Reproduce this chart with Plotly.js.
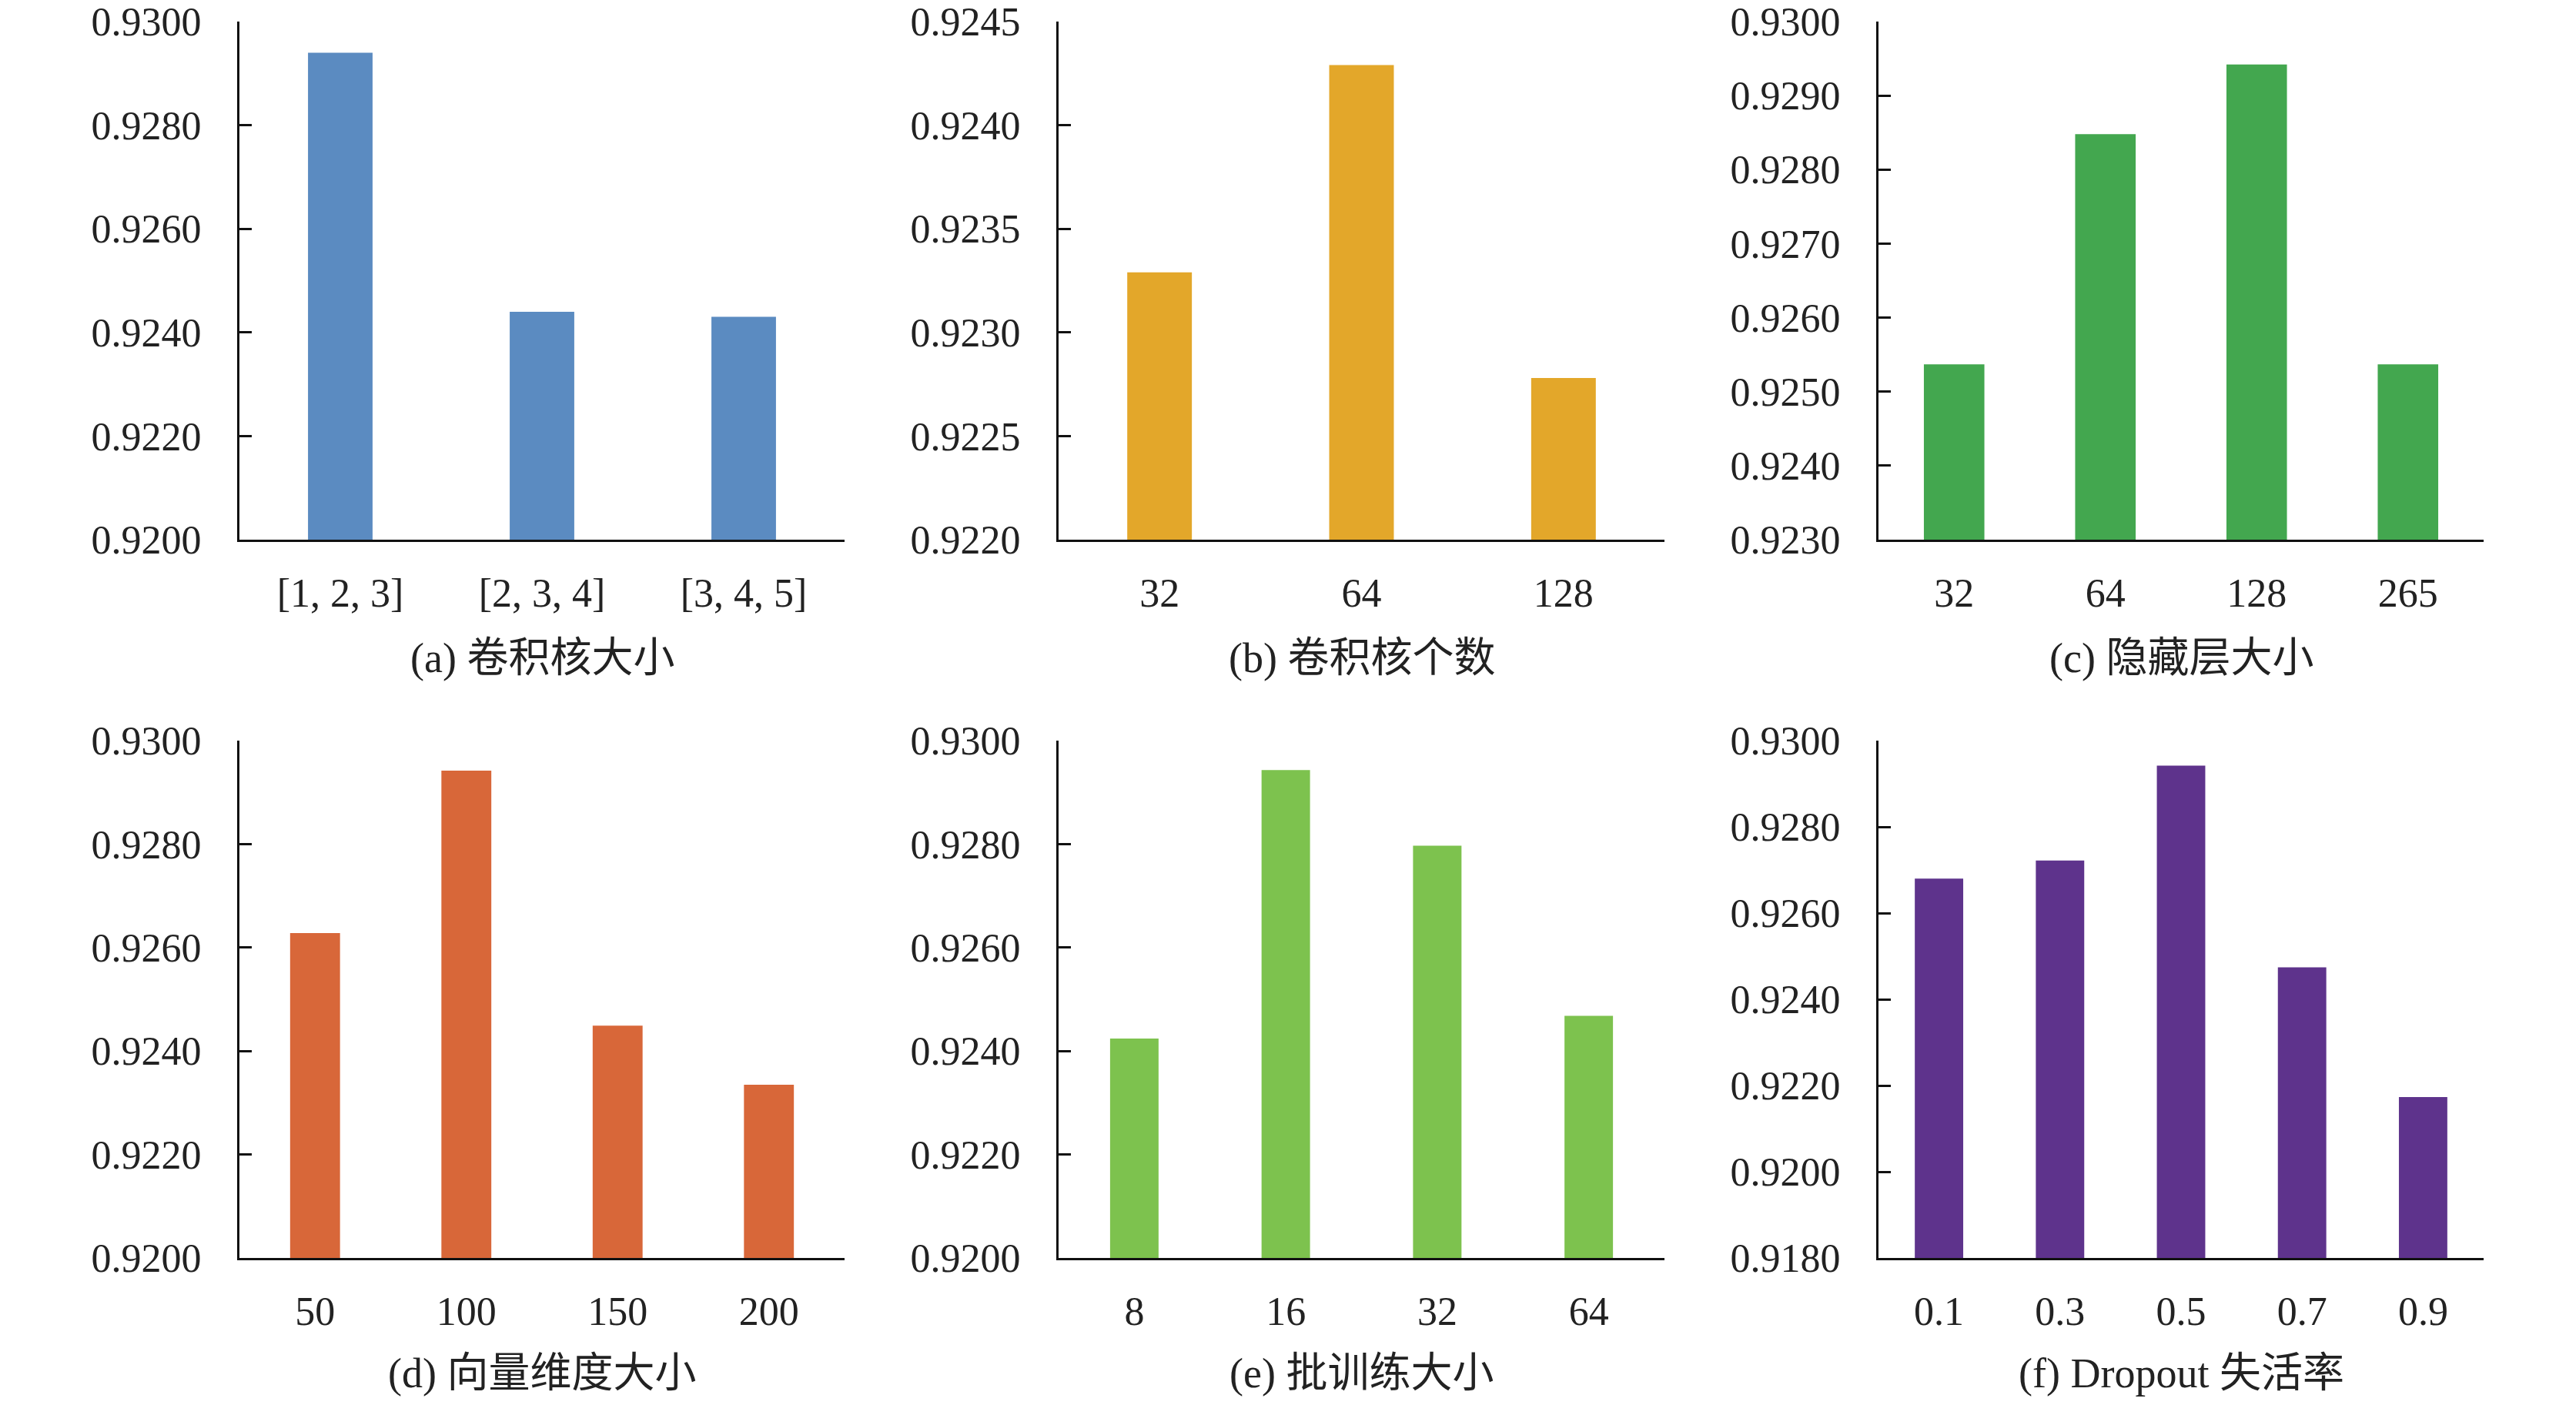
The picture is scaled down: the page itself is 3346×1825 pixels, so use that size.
<!DOCTYPE html>
<html>
<head>
<meta charset="utf-8">
<script src="https://cdn.plot.ly/plotly-3.0.1.min.js"></script>
<style>
  html, body { margin: 0; padding: 0; background: #fff; }
  #chart { width: 3346px; height: 1825px; }
</style>
</head>
<body>
<div id="chart"></div>
<script>
// values
const kernelSizeLabels = ['[1, 2, 3]', '[2, 3, 4]', '[3, 4, 5]']
const kernelSizeValues = [0.9294, 0.9244, 0.9243]

const kernelCountLabels = ['32', '64', '128']
const kernelCountValues = [0.92329, 0.92429, 0.92278]

const hiddenSizeLabels = ['32', '64', '128', '265']
const hiddenSizeValues = [0.92537, 0.92848, 0.92942, 0.92537]

const embedDimLabels = ['50', '100', '150', '200']
const embedDimValues = [0.92628, 0.92942, 0.92449, 0.92335]

const batchSizeLabels = ['8', '16', '32', '64']
const batchSizeValues = [0.92424, 0.92943, 0.92797, 0.92468]

const dropoutLabels = ['0.1', '0.3', '0.5', '0.7', '0.9']
const dropoutValues = [0.92680, 0.92722, 0.92942, 0.92474, 0.92173]

const subtitles = ['(a) 卷积核大小', '(b) 卷积核个数', '(c) 隐藏层大小',
                   '(d) 向量维度大小', '(e) 批训练大小', '(f) Dropout 失活率']

// layout (pixels in a 3346 x 1825 page)
const W = 3346, H = 1825
const cols = [[311, 1097], [1375, 2162], [2440, 3226]]
const rows = [[28, 701], [962, 1634]]
const subtitleY = [855, 1784]

const panels = [
  { labels: kernelSizeLabels, values: kernelSizeValues, color: '#5B8BC1', range: [0.92, 0.93], dtick: 0.002, width: 0.32 },
  { labels: kernelCountLabels, values: kernelCountValues, color: '#E3A72A', range: [0.922, 0.9245], dtick: 0.0005, width: 0.32 },
  { labels: hiddenSizeLabels, values: hiddenSizeValues, color: '#43A74F', range: [0.923, 0.93], dtick: 0.001, width: 0.40 },
  { labels: embedDimLabels, values: embedDimValues, color: '#D86739', range: [0.92, 0.93], dtick: 0.002, width: 0.33 },
  { labels: batchSizeLabels, values: batchSizeValues, color: '#7DC24E', range: [0.92, 0.93], dtick: 0.002, width: 0.32 },
  { labels: dropoutLabels, values: dropoutValues, color: '#5E338C', range: [0.918, 0.93], dtick: 0.002, width: 0.40 }
]

const fontFamily = '"Liberation Serif", "Times New Roman", "Noto Sans CJK SC", serif'

let traces = []
let layout = {
  width: W,
  height: H,
  margin: { l: 0, r: 0, t: 0, b: 0 },
  paper_bgcolor: '#fff',
  plot_bgcolor: '#fff',
  showlegend: false,
  font: { family: fontFamily, size: 52, color: '#222' },
  annotations: []
}

panels.forEach((p, i) => {
  let n = i + 1
  let col = cols[i % 3]
  let row = rows[Math.floor(i / 3)]
  let xa = n === 1 ? 'xaxis' : 'xaxis' + n
  let ya = n === 1 ? 'yaxis' : 'yaxis' + n

  traces.push({
    type: 'bar',
    x: p.labels,
    y: p.values,
    width: p.width,
    marker: { color: p.color, line: { width: 0 } },
    xaxis: 'x' + (n === 1 ? '' : n),
    yaxis: 'y' + (n === 1 ? '' : n),
    hoverinfo: 'none'
  })

  layout[xa] = {
    domain: [col[0] / W, col[1] / W],
    anchor: 'y' + (n === 1 ? '' : n),
    type: 'category',
    showline: true,
    linecolor: '#111',
    linewidth: 3,
    ticks: '',
    showgrid: false,
    zeroline: false,
    ticklabelstandoff: 22,
    tickfont: { family: fontFamily, size: 52, color: '#222' },
    fixedrange: true
  }

  layout[ya] = {
    domain: [1 - row[1] / H, 1 - row[0] / H],
    anchor: 'x' + (n === 1 ? '' : n),
    range: p.range,
    tick0: p.range[0],
    dtick: p.dtick,
    tickformat: '.4f',
    showline: true,
    linecolor: '#111',
    linewidth: 3,
    ticks: 'inside',
    ticklen: 16,
    tickwidth: 3,
    tickcolor: '#111',
    showgrid: false,
    zeroline: false,
    ticklabelstandoff: 36,
    tickfont: { family: fontFamily, size: 52, color: '#222' },
    fixedrange: true
  }

  layout.annotations.push({
    text: subtitles[i],
    xref: 'paper',
    yref: 'paper',
    x: (col[0] + col[1]) / 2 / W,
    y: 1 - subtitleY[Math.floor(i / 3)] / H,
    xanchor: 'center',
    yanchor: 'middle',
    showarrow: false,
    font: { family: fontFamily, size: 54, color: '#222' }
  })
})

Plotly.newPlot('chart', traces, layout, { displayModeBar: false, staticPlot: true })
</script>
</body>
</html>
